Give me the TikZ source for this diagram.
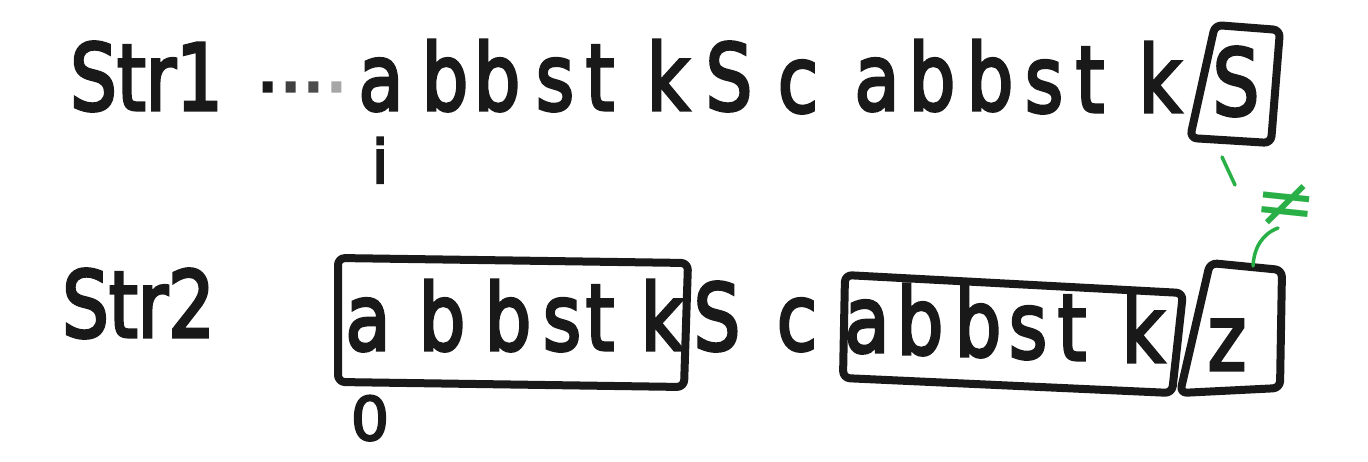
\documentclass[tikz,border=0pt]{standalone}
\usepackage{fontspec}
\newfontfamily\hwfont[FakeBold=3.5]{DejaVu Sans}
\newfontfamily\neqfont{DejaVu Sans}
\definecolor{ink}{RGB}{25,25,25}
\definecolor{hwgreen}{RGB}{40,175,70}
\newcommand\hwbig{\hwfont\fontsize{92}{92}\selectfont}
\newcommand\nar[1]{\scalebox{0.8}[1]{#1}}
\tikzset{
  ch/.style={inner sep=0pt, anchor=base, text=ink, font=\hwbig},
  small/.style={inner sep=0pt, anchor=base, text=ink, font=\hwfont\fontsize{60}{60}\selectfont},
  hbox/.style={draw=ink, line width=8pt, rounded corners=7pt, line join=round},
  grn/.style={draw=hwgreen, line width=3.5pt, line cap=round},
}
\begin{document}
\begin{tikzpicture}[x=1pt,y=-1pt]
\useasboundingbox (0,0) rectangle (1368,461);
\fill[white] (0,0) rectangle (1368,461);
% ---- row 1
\node[ch, anchor=base west] (str1) at (70,110) {\nar{Str1}};
\node[inner sep=0pt, anchor=base, font=\hwfont\fontsize{72}{72}\selectfont] (dots) at (302,112)
  {\color{ink}·\color{black!75}·\color{black!70}·\color{black!35}·};
\node[ch] (r1a)  at (381,110) {\nar{a}};
\node[ch] (r1b1) at (445,110) {\nar{b}};
\node[ch] (r1b2) at (497,110) {\nar{b}};
\node[ch] (r1s)  at (555,110) {\nar{s}};
\node[ch] (r1t)  at (600,110) {\nar{t}};
\node[ch] (r1k)  at (668,110) {\nar{k}};
\node[ch] (r1S)  at (729,110) {\nar{S}};
\node[ch] (r1c)  at (798,112) {\nar{c}};
\node[ch] (r1a2) at (877,110) {\nar{a}};
\node[ch] (r1b3) at (932,110) {\nar{b}};
\node[ch] (r1b4) at (990,110) {\nar{b}};
\node[ch] (r1s2) at (1044,112) {\nar{s}};
\node[ch] (r1t2) at (1090,112) {\nar{t}};
\node[ch] (r1k2) at (1160,112) {\nar{k}};
\node[ch] (r1S2) at (1236,115) {\nar{S}};
\node[small] (i) at (380,183) {i};
% box around last S of str1
\draw[hbox] (1215,25) -- (1280,30) -- (1271,143) -- (1190,138) -- cycle;
\coordinate (sBot) at (1232,141);
% ---- row 2
\node[ch, anchor=base west] (str2) at (62,337) {\nar{Str2}};
\node[ch] (r2a)  at (368,350) {\nar{a}};
\node[ch] (r2b1) at (442,350) {\nar{b}};
\node[ch] (r2b2) at (508,350) {\nar{b}};
\node[ch] (r2s)  at (562,350) {\nar{s}};
\node[ch] (r2t)  at (600,350) {\nar{t}};
\node[ch] (r2k)  at (662,350) {\nar{k}};
\node[ch] (r2S)  at (717,350) {\nar{S}};
\node[ch] (r2c)  at (797,350) {\nar{c}};
\node[ch] (r2a2) at (867,352) {\nar{a}};
\node[ch] (r2b3) at (920,354) {\nar{b}};
\node[ch] (r2b4) at (978,356) {\nar{b}};
\node[ch] (r2s2) at (1028,358) {\nar{s}};
\node[ch] (r2t2) at (1072,360) {\nar{t}};
\node[ch] (r2k2) at (1143,362) {\nar{k}};
\node[ch] (r2z)  at (1227,370) {\nar{z}};
\node[small] (zero) at (370,440) {0};
% boxes of str2
\draw[hbox] (338,258) -- (688,263) -- (684,387) -- (338,382) -- cycle;
\draw[hbox] (845,275) -- (1183,293) -- (1172,393) -- (843,378) -- cycle;
\draw[hbox] (1210,263) -- (1282,270) -- (1280,388) -- (1180,393) -- cycle;
\coordinate (zTop) at (1253,266);
% ---- green "not equal" annotation
\coordinate (gA) at (1222,157);
\coordinate (gB) at (1235,185);
\draw[grn] (gA) -- (gB);
\node[inner sep=0pt, text=hwgreen, font=\neqfont\fontsize{74}{74}\selectfont, rotate=-6] (neq) at (1286,205) {≠};
\coordinate (gC) at (1278,228);
\draw[grn] (gC) .. controls (1262,234) and (1254,248) .. (zTop);
\end{tikzpicture}
\end{document}
